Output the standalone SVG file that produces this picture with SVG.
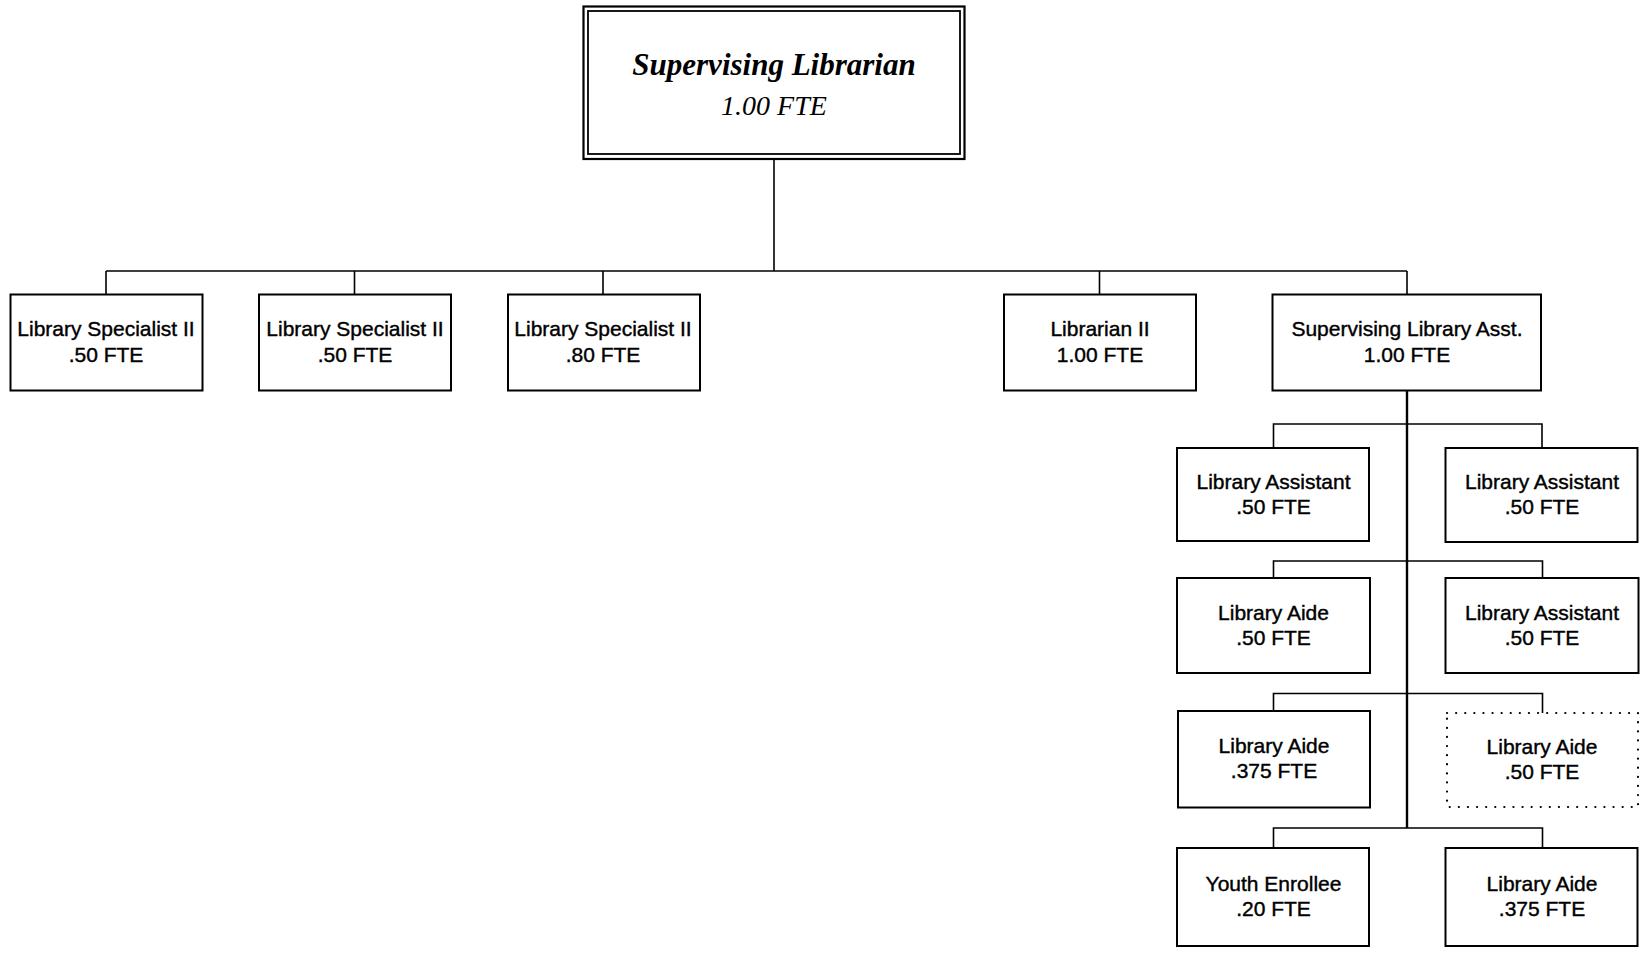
<svg xmlns="http://www.w3.org/2000/svg" width="1645" height="953" viewBox="0 0 1645 953">
  <style>
    .box { fill: #ffffff; stroke: #000000; stroke-width: 2; }
    .dotted { fill: #ffffff; stroke: #000000; stroke-width: 2.2; stroke-dasharray: 0.1 9; stroke-linecap: round; }
    .wire { fill: none; stroke: #000000; stroke-width: 1.6; }
    .trunk { fill: none; stroke: #000000; stroke-width: 2.4; }
    .lbl { font-family: "Liberation Sans", Arial, sans-serif; font-size: 21px; fill: #000000; stroke: #000000; stroke-width: 0.4; text-anchor: middle; }
    .head { font-family: "Liberation Serif", "Times New Roman", serif; font-style: italic; fill: #000000; text-anchor: middle; }
  </style>
  <rect width="1645" height="953" fill="#ffffff"/>

  <!-- connectors -->
  <g id="connectors">
    <path class="wire" d="M774 159 V271"/>
    <path class="wire" d="M106 271 H1407"/>
    <path class="wire" d="M106 271 V295 M354.5 271 V295 M603 271 V295 M1099.5 271 V295 M1407 271 V295"/>
    <path class="trunk" d="M1407 391 V828"/>
    <path class="wire" d="M1273.5 448 V424 H1542 V448"/>
    <path class="wire" d="M1273.5 578 V561 H1542.5 V578"/>
    <path class="wire" d="M1273.5 711 V693.5 H1542.5 V713"/>
    <path class="wire" d="M1273.5 848 V828 H1542.5 V848"/>
  </g>

  <!-- top node -->
  <g id="supervising-librarian">
    <rect x="583.5" y="6.5" width="381" height="152.5" fill="#ffffff" stroke="#000" stroke-width="2.2"/>
    <rect x="588" y="11" width="372" height="143" fill="none" stroke="#000" stroke-width="1.8"/>
    <text class="head" x="774" y="75" font-size="31" font-weight="bold">Supervising Librarian</text>
    <text class="head" x="774" y="115" font-size="28">1.00 FTE</text>
  </g>

  <!-- second level -->
  <g id="specialist-1">
    <rect class="box" x="10.5" y="294.5" width="192" height="96"/>
    <text class="lbl" x="106" y="336">Library Specialist II</text>
    <text class="lbl" x="106" y="362">.50 FTE</text>
  </g>
  <g id="specialist-2">
    <rect class="box" x="259" y="294.5" width="192" height="96"/>
    <text class="lbl" x="355" y="336">Library Specialist II</text>
    <text class="lbl" x="355" y="362">.50 FTE</text>
  </g>
  <g id="specialist-3">
    <rect class="box" x="508" y="294.5" width="192" height="96"/>
    <text class="lbl" x="603" y="336">Library Specialist II</text>
    <text class="lbl" x="603" y="362">.80 FTE</text>
  </g>
  <g id="librarian-2">
    <rect class="box" x="1004" y="294.5" width="192" height="96"/>
    <text class="lbl" x="1100" y="336">Librarian II</text>
    <text class="lbl" x="1100" y="362">1.00 FTE</text>
  </g>
  <g id="supervising-asst">
    <rect class="box" x="1272.5" y="294.5" width="268.5" height="96"/>
    <text class="lbl" x="1407" y="336">Supervising Library Asst.</text>
    <text class="lbl" x="1407" y="362">1.00 FTE</text>
  </g>

  <!-- staff under the supervising assistant -->
  <g id="assistant-1">
    <rect class="box" x="1177" y="448" width="192" height="93"/>
    <text class="lbl" x="1273.5" y="489">Library Assistant</text>
    <text class="lbl" x="1273.5" y="514">.50 FTE</text>
  </g>
  <g id="assistant-2">
    <rect class="box" x="1445.5" y="448" width="192" height="94"/>
    <text class="lbl" x="1542" y="489">Library Assistant</text>
    <text class="lbl" x="1542" y="514">.50 FTE</text>
  </g>
  <g id="aide-1">
    <rect class="box" x="1177" y="578" width="193" height="95"/>
    <text class="lbl" x="1273.5" y="620">Library Aide</text>
    <text class="lbl" x="1273.5" y="645">.50 FTE</text>
  </g>
  <g id="assistant-3">
    <rect class="box" x="1445.5" y="578" width="193" height="95"/>
    <text class="lbl" x="1542" y="620">Library Assistant</text>
    <text class="lbl" x="1542" y="645">.50 FTE</text>
  </g>
  <g id="aide-2">
    <rect class="box" x="1178" y="711" width="192" height="96.5"/>
    <text class="lbl" x="1274" y="753">Library Aide</text>
    <text class="lbl" x="1274" y="778">.375 FTE</text>
  </g>
  <g id="aide-vacant">
    <rect class="dotted" x="1447" y="713" width="191" height="94"/>
    <text class="lbl" x="1542" y="754">Library Aide</text>
    <text class="lbl" x="1542" y="779">.50 FTE</text>
  </g>
  <g id="youth-enrollee">
    <rect class="box" x="1177" y="848" width="192" height="98"/>
    <text class="lbl" x="1273.5" y="891">Youth Enrollee</text>
    <text class="lbl" x="1273.5" y="916">.20 FTE</text>
  </g>
  <g id="aide-3">
    <rect class="box" x="1445.5" y="848" width="192" height="98"/>
    <text class="lbl" x="1542" y="891">Library Aide</text>
    <text class="lbl" x="1542" y="916">.375 FTE</text>
  </g>
</svg>
